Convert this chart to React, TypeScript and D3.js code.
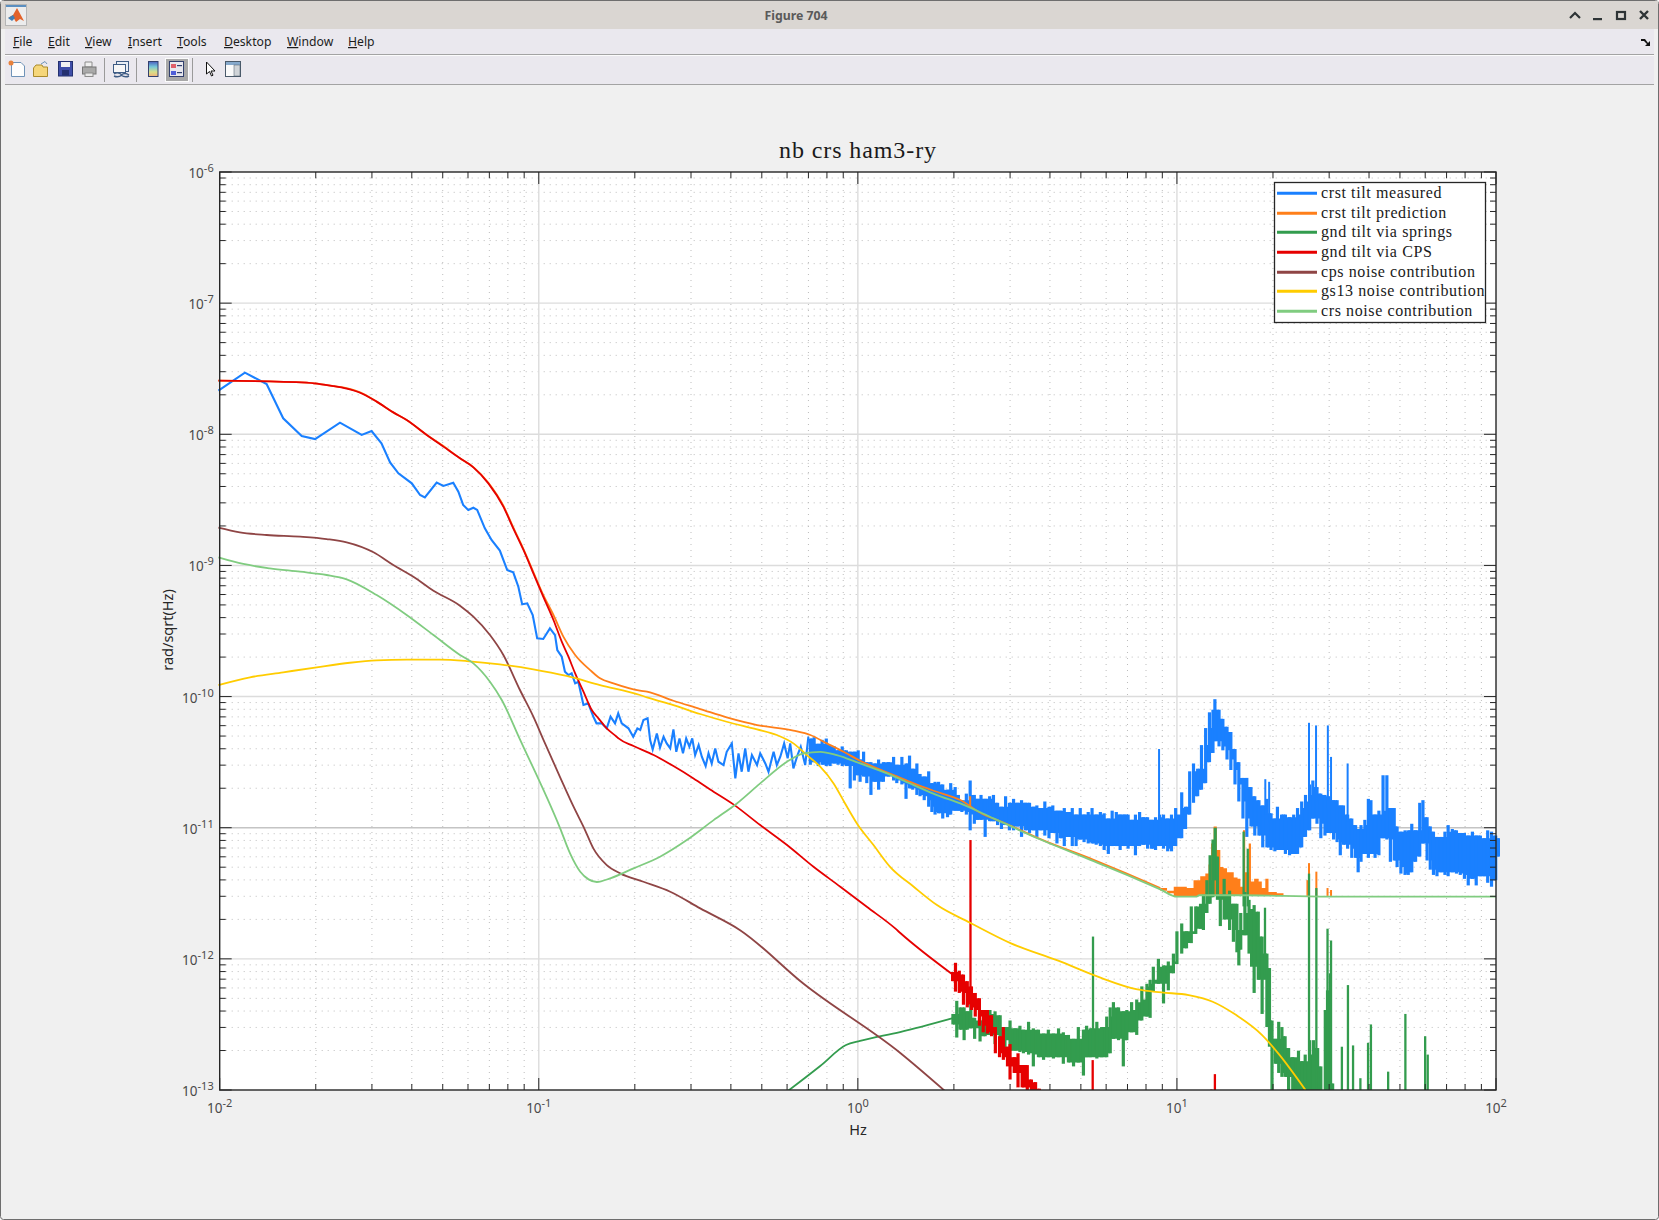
import * as d3 from 'd3'

// All spectra are kept as log10 values: [log10(Hz), log10(rad/sqrt(Hz))]
type Pt = [number, number]
// noisy stretches: [log10(Hz), log10 upper edge, log10 lower edge]
type Band = [number, number, number]
// narrow lines: [log10(Hz), log10 base, log10 tip]
type Spike = [number, number, number]

const legendLabels = [
  'crst tilt measured',
  'crst tilt prediction',
  'gnd tilt via springs',
  'gnd tilt via CPS',
  'cps noise contribution',
  'gs13 noise contribution',
  'crs noise contribution',
]
const seriesColors = ['#1a80ff', '#ff7f1a', '#339c4e', '#e60000', '#8f4545', '#ffcc00', '#80cc80']
const menuItems: [string, number][] = [['File', 13], ['Edit', 48], ['View', 85], ['Insert', 128], ['Tools', 177], ['Desktop', 224], ['Window', 287], ['Help', 348]]

const blueLine: Pt[] = [
  [-2.004, -7.667], [-1.921, -7.53], [-1.853, -7.617], [-1.801, -7.878], [-1.743, -8.013], [-1.701, -8.036],
  [-1.623, -7.911], [-1.555, -8.005], [-1.524, -7.975], [-1.493, -8.069], [-1.466, -8.214], [-1.44, -8.298],
  [-1.398, -8.374], [-1.372, -8.463], [-1.357, -8.481], [-1.32, -8.369], [-1.299, -8.394], [-1.268, -8.369],
  [-1.252, -8.438], [-1.237, -8.539], [-1.221, -8.577], [-1.205, -8.56], [-1.193, -8.577], [-1.169, -8.717],
  [-1.148, -8.806], [-1.122, -8.887], [-1.099, -9.035], [-1.08, -9.053], [-1.064, -9.162], [-1.052, -9.297],
  [-1.036, -9.289], [-1.019, -9.378], [-1.005, -9.556], [-0.986, -9.561], [-0.965, -9.48], [-0.949, -9.531],
  [-0.942, -9.645], [-0.928, -9.696], [-0.918, -9.81], [-0.907, -9.836], [-0.897, -9.823], [-0.886, -9.899],
  [-0.876, -9.887], [-0.86, -10.064], [-0.845, -10.052], [-0.829, -10.153], [-0.819, -10.204], [-0.803, -10.204],
  [-0.787, -10.242], [-0.775, -10.153], [-0.761, -10.204], [-0.751, -10.128], [-0.74, -10.204], [-0.719, -10.242],
  [-0.704, -10.306], [-0.691, -10.243], [-0.682, -10.255], [-0.672, -10.179], [-0.659, -10.166], [-0.651, -10.332],
  [-0.643, -10.403], [-0.63, -10.281], [-0.62, -10.388], [-0.609, -10.306], [-0.599, -10.357], [-0.588, -10.395],
  [-0.578, -10.25], [-0.569, -10.421], [-0.559, -10.319], [-0.548, -10.433], [-0.538, -10.319], [-0.528, -10.382],
  [-0.519, -10.319], [-0.51, -10.446], [-0.499, -10.37], [-0.489, -10.459], [-0.477, -10.53], [-0.468, -10.433],
  [-0.458, -10.51], [-0.447, -10.395], [-0.437, -10.497], [-0.421, -10.522], [-0.411, -10.421], [-0.395, -10.357],
  [-0.384, -10.624], [-0.374, -10.433], [-0.364, -10.573], [-0.353, -10.395], [-0.343, -10.573], [-0.332, -10.446],
  [-0.316, -10.522], [-0.306, -10.433], [-0.29, -10.51], [-0.28, -10.573], [-0.264, -10.421], [-0.254, -10.522],
  [-0.243, -10.459], [-0.231, -10.357], [-0.22, -10.471], [-0.212, -10.357], [-0.202, -10.548], [-0.189, -10.446],
  [-0.179, -10.382], [-0.165, -10.522], [-0.155, -10.306],
]

const blueBand: Band[] = [
  [-0.149, -10.32, -10.52], [-0.137, -10.31, -10.5], [-0.124, -10.36, -10.53], [-0.112, -10.33, -10.52],
  [-0.099, -10.32, -10.53], [-0.087, -10.37, -10.53], [-0.074, -10.38, -10.51], [-0.062, -10.41, -10.52],
  [-0.049, -10.38, -10.53], [-0.036, -10.41, -10.53], [-0.024, -10.42, -10.7], [-0.011, -10.42, -10.64],
  [0.001, -10.41, -10.6], [0.007, -10.48, -10.65], [0.018, -10.42, -10.61], [0.028, -10.5, -10.66],
  [0.041, -10.5, -10.75], [0.054, -10.51, -10.65], [0.065, -10.48, -10.71], [0.08, -10.5, -10.65],
  [0.096, -10.5, -10.61], [0.112, -10.46, -10.64], [0.122, -10.52, -10.66], [0.138, -10.46, -10.67],
  [0.151, -10.51, -10.78], [0.162, -10.45, -10.7], [0.172, -10.55, -10.71], [0.185, -10.51, -10.75],
  [0.195, -10.59, -10.76], [0.208, -10.61, -10.79], [0.222, -10.57, -10.84], [0.232, -10.66, -10.88],
  [0.242, -10.65, -10.9], [0.253, -10.65, -10.89], [0.266, -10.67, -10.93], [0.281, -10.71, -10.92],
  [0.291, -10.66, -10.9], [0.305, -10.69, -10.87], [0.315, -10.75, -10.87], [0.326, -10.79, -10.88],
  [0.34, -10.74, -10.9], [0.352, -10.64, -11.02], [0.365, -10.75, -10.97], [0.375, -10.78, -10.94],
  [0.386, -10.75, -10.94], [0.399, -10.78, -11.07], [0.413, -10.76, -10.95], [0.425, -10.75, -10.95],
  [0.438, -10.81, -10.98], [0.45, -10.84, -11.01], [0.463, -10.76, -10.98], [0.475, -10.81, -11.02],
  [0.488, -10.78, -11.02], [0.5, -10.81, -10.99], [0.513, -10.79, -11.07], [0.525, -10.81, -11.02],
  [0.538, -10.81, -11.04], [0.551, -10.84, -11.02], [0.561, -10.83, -11.07], [0.574, -10.85, -11.02],
  [0.586, -10.8, -11.06], [0.599, -10.84, -11.08], [0.611, -10.83, -11.04], [0.624, -10.87, -11.12],
  [0.634, -10.87, -11.08], [0.647, -10.85, -11.14], [0.659, -10.88, -11.07], [0.672, -10.85, -11.14],
  [0.684, -10.9, -11.14], [0.697, -10.85, -11.09], [0.709, -10.9, -11.11], [0.722, -10.88, -11.12],
  [0.734, -10.85, -11.12], [0.747, -10.9, -11.13], [0.76, -10.88, -11.14], [0.772, -10.89, -11.17],
  [0.785, -10.93, -11.2], [0.797, -10.87, -11.14], [0.81, -10.88, -11.14], [0.822, -10.9, -11.17],
  [0.835, -10.9, -11.14], [0.847, -10.9, -11.16], [0.86, -10.94, -11.14], [0.87, -10.9, -11.21],
  [0.883, -10.88, -11.14], [0.895, -10.92, -11.13], [0.908, -10.92, -11.16], [0.92, -10.94, -11.16],
  [0.933, -10.92, -11.17], [0.946, -10.9, -11.14], [0.958, -10.9, -11.16], [0.971, -10.93, -11.18],
  [0.983, -10.9, -11.18], [0.996, -10.85, -11.14], [1.015, -10.73, -11.08], [1.027, -10.84, -11.01],
  [1.04, -10.57, -10.9], [1.052, -10.51, -10.81], [1.065, -10.55, -10.76], [1.077, -10.37, -10.71],
  [1.09, -10.24, -10.66], [1.102, -10.12, -10.5], [1.113, -10.1, -10.43], [1.119, -10.02, -10.34],
  [1.132, -10.1, -10.38], [1.144, -10.17, -10.41], [1.157, -10.23, -10.48], [1.169, -10.27, -10.56],
  [1.182, -10.4, -10.67], [1.194, -10.5, -10.8], [1.207, -10.62, -10.93], [1.219, -10.62, -11.07],
  [1.232, -10.69, -10.99], [1.244, -10.76, -11.06], [1.257, -10.79, -11.06], [1.269, -10.83, -11.15],
  [1.282, -10.78, -11.15], [1.295, -10.89, -11.17], [1.307, -10.93, -11.18], [1.315, -10.84, -11.17],
  [1.328, -10.9, -11.17], [1.34, -10.9, -11.2], [1.353, -10.92, -11.21], [1.366, -10.9, -11.2],
  [1.378, -10.85, -11.2], [1.391, -10.8, -11.15], [1.403, -10.75, -11.07], [1.416, -10.67, -11.02],
  [1.426, -10.64, -10.93], [1.439, -10.69, -10.97], [1.451, -10.74, -11.08], [1.464, -10.75, -11.06],
  [1.476, -10.76, -11.04], [1.491, -10.79, -11.09], [1.502, -10.79, -11.11], [1.512, -10.83, -11.21],
  [1.522, -10.83, -11.13], [1.535, -10.9, -11.16], [1.548, -10.93, -11.23], [1.56, -10.98, -11.23],
  [1.568, -11.01, -11.34], [1.577, -10.98, -11.26], [1.589, -10.94, -11.2], [1.6, -10.78, -11.23],
  [1.608, -10.79, -11.2], [1.621, -10.9, -11.23], [1.633, -10.87, -11.21], [1.646, -10.6, -11.08],
  [1.658, -10.6, -11.09], [1.669, -10.85, -11.26], [1.681, -10.85, -11.25], [1.69, -10.99, -11.3],
  [1.702, -11.03, -11.35], [1.715, -11.02, -11.36], [1.725, -11.02, -11.36], [1.736, -10.97, -11.34],
  [1.748, -11.02, -11.26], [1.761, -10.81, -11.22], [1.771, -10.79, -11.12], [1.784, -10.92, -11.25],
  [1.794, -10.99, -11.32], [1.804, -11.03, -11.36], [1.815, -11.07, -11.37], [1.828, -11.07, -11.34],
  [1.84, -11.03, -11.36], [1.85, -10.98, -11.37], [1.863, -11.01, -11.34], [1.876, -11.02, -11.35],
  [1.888, -11.04, -11.36], [1.901, -11.04, -11.39], [1.913, -11.06, -11.44], [1.926, -11.03, -11.39],
  [1.938, -11.06, -11.44], [1.951, -11.06, -11.37], [1.963, -11.08, -11.37], [1.974, -11.02, -11.42],
  [1.986, -11.03, -11.45], [1.999, -11.06, -11.4], [2.009, -11.08, -11.22],
]

const blueSpikes: Spike[] = [
  [0.944, -10.95, -10.4], [1.277, -10.9, -10.63], [1.289, -10.95, -10.65], [1.414, -10.8, -10.2],
  [1.436, -10.8, -10.22], [1.473, -10.85, -10.22], [1.483, -10.85, -10.46], [1.535, -10.95, -10.51],
]

const orangeLine: Pt[] = [
  [-2.004, -7.591], [-1.727, -7.606], [-1.686, -7.617], [-1.644, -7.632], [-1.602, -7.648], [-1.56, -7.68],
  [-1.508, -7.751], [-1.456, -7.833], [-1.414, -7.891], [-1.351, -8.005], [-1.299, -8.09], [-1.247, -8.183],
  [-1.205, -8.25], [-1.158, -8.37], [-1.111, -8.545], [-1.08, -8.71], [-1.048, -8.875], [-1.017, -9.05],
  [-0.986, -9.225], [-0.954, -9.378], [-0.923, -9.543], [-0.886, -9.683], [-0.839, -9.798], [-0.808, -9.861],
  [-0.766, -9.899], [-0.683, -9.955], [-0.661, -9.963], [-0.578, -10.032], [-0.494, -10.095], [-0.411, -10.159],
  [-0.316, -10.217], [-0.202, -10.26], [-0.149, -10.293], [-0.097, -10.357], [-0.045, -10.421], [0.007, -10.489],
  [0.06, -10.548], [0.112, -10.599], [0.175, -10.662], [0.237, -10.718], [0.321, -10.789], [0.384, -10.886],
  [0.467, -10.972], [0.572, -11.087], [0.739, -11.245], [0.843, -11.35], [0.948, -11.46],
]

const orangeBand: Band[] = [
  [0.948, -11.46, -11.48], [0.969, -11.48, -11.5], [0.99, -11.45, -11.52], [1.01, -11.45, -11.52],
  [1.031, -11.46, -11.52], [1.052, -11.4, -11.52], [1.073, -11.37, -11.52], [1.089, -11.35, -11.52],
  [1.099, -11.28, -11.52], [1.107, -11.12, -11.52], [1.115, -10.99, -11.52], [1.125, -11.17, -11.52],
  [1.136, -11.3, -11.52], [1.146, -11.31, -11.52], [1.157, -11.34, -11.52], [1.167, -11.34, -11.52],
  [1.178, -11.38, -11.52], [1.19, -11.39, -11.52], [1.199, -11.45, -11.52], [1.207, -11.02, -11.52],
  [1.214, -11.34, -11.52], [1.225, -11.12, -11.52], [1.232, -11.41, -11.52], [1.242, -11.39, -11.52],
  [1.256, -11.41, -11.52], [1.266, -11.46, -11.52], [1.277, -11.39, -11.52], [1.287, -11.49, -11.52],
  [1.313, -11.5, -11.52], [1.334, -11.5, -11.52],
]

const orangeSpikes: Spike[] = [
  [0.352, -10.85, -10.76], [1.409, -11.52, -11.4], [1.414, -11.52, -11.27], [1.437, -11.52, -11.335],
  [1.472, -11.52, -11.46], [1.483, -11.52, -11.475],
]

const greenLine: Pt[] = [
  [-0.219, -13.007], [-0.118, -12.817], [-0.037, -12.657], [0.007, -12.626], [0.132, -12.558], [0.298, -12.451],
]

const greenBandA: Band[] = [
  [0.298, -12.42, -12.5], [0.31, -12.32, -12.6], [0.32, -12.37, -12.54], [0.333, -12.37, -12.62], [0.343, -12.4, -12.54],
  [0.354, -12.35, -12.53], [0.366, -12.45, -12.61], [0.383, -12.47, -12.63], [0.399, -12.42, -12.59],
  [0.414, -12.39, -12.58], [0.43, -12.4, -12.65], [0.446, -12.43, -12.62], [0.461, -12.52, -12.7],
  [0.477, -12.47, -12.7], [0.493, -12.53, -12.7], [0.508, -12.51, -12.71], [0.519, -12.54, -12.72],
  [0.535, -12.48, -12.73], [0.55, -12.53, -12.82], [0.566, -12.54, -12.75], [0.582, -12.57, -12.77],
  [0.597, -12.54, -12.75], [0.613, -12.57, -12.76], [0.629, -12.53, -12.75], [0.644, -12.56, -12.8],
  [0.66, -12.58, -12.79], [0.676, -12.61, -12.82], [0.691, -12.52, -12.79], [0.707, -12.54, -12.89],
  [0.717, -12.51, -12.75], [0.728, -12.53, -12.75], [0.749, -12.48, -12.76], [0.764, -12.52, -12.75],
  [0.78, -12.44, -12.75], [0.791, -12.37, -12.72], [0.801, -12.33, -12.61], [0.817, -12.37, -12.62],
  [0.832, -12.4, -12.82], [0.843, -12.39, -12.62], [0.858, -12.33, -12.56], [0.874, -12.31, -12.58],
  [0.89, -12.21, -12.47], [0.906, -12.19, -12.44], [0.916, -12.16, -12.45], [0.926, -12.06, -12.25],
  [0.942, -12.0, -12.19], [0.958, -12.05, -12.34], [0.973, -12.02, -12.24], [0.989, -11.96, -12.11],
  [1.0, -11.79, -12.04], [1.015, -11.73, -11.96], [1.03, -11.79, -11.92], [1.045, -11.6, -11.88],
  [1.059, -11.6, -11.81], [1.074, -11.58, -11.77], [1.083, -11.51, -11.78], [1.094, -11.4, -11.65],
  [1.104, -11.21, -11.58], [1.113, -11.09, -11.53], [1.12, -11.0, -11.4], [1.127, -11.22, -11.55],
  [1.136, -11.51, -11.75], [1.148, -11.39, -11.7], [1.165, -11.48, -11.78], [1.177, -11.58, -11.87],
  [1.188, -11.58, -11.95], [1.194, -11.78, -12.05], [1.2, -11.65, -11.93], [1.213, -11.49, -11.82],
  [1.226, -11.55, -11.96], [1.234, -11.62, -12.06], [1.242, -11.59, -12.26], [1.255, -11.64, -12.16],
  [1.267, -11.83, -12.42], [1.282, -11.96, -12.52], [1.29, -12.07, -12.67], [1.298, -12.47, -13.0],
  [1.308, -12.61, -12.8], [1.319, -12.48, -12.87], [1.329, -12.52, -12.9], [1.339, -12.59, -12.9],
  [1.35, -12.68, -13.03], [1.363, -12.75, -13.03], [1.381, -12.7, -13.03], [1.392, -12.78, -13.03],
  [1.402, -12.73, -13.03], [1.416, -12.62, -13.03], [1.428, -12.62, -13.03], [1.441, -12.68, -13.03],
  [1.451, -12.82, -13.03],
]

const greenBandB: Band[] = [
  [1.465, -12.39, -13.03], [1.472, -12.24, -13.03], [1.481, -12.11, -13.03], [1.488, -12.95, -13.03],
]

const greenSpikes: Spike[] = [
  [0.737, -12.7, -11.83], [1.209, -11.6, -11.03], [1.222, -11.6, -11.16], [1.276, -12.0, -11.61],
  [1.289, -12.5, -12.08], [1.414, -13.05, -11.35], [1.437, -13.05, -11.46], [1.472, -13.05, -11.77],
  [1.483, -13.05, -11.86], [1.486, -13.05, -12.96], [1.517, -13.05, -12.67], [1.536, -13.05, -12.2],
  [1.552, -13.05, -12.66], [1.575, -13.05, -12.91], [1.599, -13.05, -12.64], [1.608, -13.05, -12.5],
  [1.662, -13.05, -12.86], [1.716, -13.05, -12.42], [1.778, -13.05, -12.59], [1.786, -13.05, -12.73],
]

const redLine: Pt[] = [
  [-2.004, -7.591], [-1.727, -7.606], [-1.686, -7.617], [-1.644, -7.632], [-1.602, -7.652], [-1.56, -7.683],
  [-1.508, -7.751], [-1.456, -7.833], [-1.414, -7.891], [-1.351, -8.005], [-1.299, -8.094], [-1.247, -8.183],
  [-1.205, -8.252], [-1.158, -8.374], [-1.111, -8.552], [-1.08, -8.717], [-1.048, -8.882], [-1.017, -9.06],
  [-0.986, -9.238], [-0.954, -9.416], [-0.928, -9.581], [-0.907, -9.696], [-0.886, -9.823], [-0.86, -9.963],
  [-0.834, -10.103], [-0.813, -10.166], [-0.787, -10.242], [-0.756, -10.306], [-0.75, -10.319], [-0.703, -10.377],
  [-0.64, -10.446], [-0.578, -10.53], [-0.515, -10.624], [-0.463, -10.708], [-0.39, -10.822], [-0.306, -10.98],
  [-0.222, -11.132], [-0.139, -11.298], [-0.055, -11.45], [0.028, -11.603], [0.117, -11.768], [0.133, -11.803],
  [0.299, -12.123],
]

const redBand: Band[] = [
  [0.297, -12.1, -12.17], [0.306, -12.03, -12.25], [0.318, -12.09, -12.26], [0.331, -12.12, -12.35],
  [0.343, -12.17, -12.37], [0.356, -12.21, -12.39], [0.368, -12.26, -12.44], [0.381, -12.3, -12.51],
  [0.393, -12.39, -12.56], [0.406, -12.39, -12.57], [0.419, -12.43, -12.59], [0.431, -12.52, -12.72],
  [0.444, -12.59, -12.75], [0.456, -12.52, -12.77], [0.469, -12.67, -12.82], [0.477, -12.65, -12.92],
  [0.49, -12.75, -12.87], [0.502, -12.72, -12.98], [0.515, -12.81, -12.98], [0.531, -12.81, -13.0],
  [0.544, -12.92, -13.02], [0.557, -12.94, -13.02], [0.569, -12.99, -13.02],
]

const redSpikes: Spike[] = [
  [0.353, -12.3, -11.094], [0.736, -13.05, -12.772], [1.108, -13.05, -12.996], [1.119, -13.05, -12.879],
]

const brownLine: Pt[] = [
  [-2.004, -8.712], [-1.937, -8.748], [-1.853, -8.768], [-1.748, -8.781], [-1.665, -8.799], [-1.602, -8.824],
  [-1.518, -8.9], [-1.456, -8.997], [-1.393, -9.086], [-1.33, -9.193], [-1.247, -9.307], [-1.205, -9.391],
  [-1.153, -9.531], [-1.111, -9.683], [-1.059, -9.95], [-1.017, -10.153], [-0.986, -10.326], [-0.933, -10.616],
  [-0.891, -10.84], [-0.855, -11.018], [-0.829, -11.158], [-0.787, -11.285], [-0.745, -11.348], [-0.672, -11.412],
  [-0.588, -11.488], [-0.494, -11.615], [-0.369, -11.781], [-0.169, -12.192], [0.132, -12.716], [0.274, -13.01],
]

const yellowLine: Pt[] = [
  [-2.004, -9.912], [-1.905, -9.853], [-1.801, -9.815], [-1.696, -9.777], [-1.592, -9.742], [-1.508, -9.724],
  [-1.414, -9.719], [-1.31, -9.719], [-1.226, -9.729], [-1.122, -9.754], [-1.017, -9.792], [-0.913, -9.843],
  [-0.808, -9.912], [-0.683, -9.988], [-0.661, -10.006], [-0.578, -10.065], [-0.494, -10.133], [-0.411, -10.192],
  [-0.316, -10.25], [-0.254, -10.293], [-0.202, -10.357], [-0.16, -10.446], [-0.118, -10.535], [-0.076, -10.662],
  [-0.04, -10.815], [-0.003, -10.967], [0.049, -11.132], [0.101, -11.298], [0.175, -11.45], [0.248, -11.59],
  [0.352, -11.725], [0.48, -11.882], [0.628, -12.014], [0.752, -12.136], [0.876, -12.233], [0.951, -12.256],
  [1.037, -12.276], [1.112, -12.327], [1.186, -12.429], [1.267, -12.581], [1.322, -12.734], [1.403, -13.001],
]

const crsLine: Pt[] = [
  [-2.004, -8.938], [-1.926, -8.989], [-1.843, -9.022], [-1.748, -9.048], [-1.665, -9.073], [-1.602, -9.106],
  [-1.508, -9.226], [-1.414, -9.378], [-1.33, -9.531], [-1.247, -9.683], [-1.205, -9.747], [-1.153, -9.887],
  [-1.116, -10.026], [-1.059, -10.326], [-0.933, -11.005], [-0.902, -11.196], [-0.87, -11.336], [-0.844, -11.394],
  [-0.818, -11.414], [-0.776, -11.386], [-0.703, -11.31], [-0.62, -11.221], [-0.536, -11.094], [-0.452, -10.942],
  [-0.379, -10.815], [-0.306, -10.662], [-0.222, -10.497], [-0.17, -10.433], [-0.118, -10.421], [-0.066, -10.446],
  [0.007, -10.51], [0.091, -10.586], [0.175, -10.675], [0.248, -10.751], [0.321, -10.815], [0.425, -10.929],
  [0.572, -11.09], [0.739, -11.255], [0.843, -11.36], [0.948, -11.47], [1.0, -11.526], [1.06, -11.526],
  [1.07, -11.515], [1.2, -11.515], [1.33, -11.52], [1.45, -11.525], [1.5, -11.526], [2.0, -11.526],
]

const W = 1659
const H = 1220
const axL = 219.7
const axR = 1496
const axT = 172
const axB = 1090

const x = d3.scaleLog().domain([1e-2, 1e2]).range([axL, axR])
const y = d3.scaleLog().domain([1e-13, 1e-6]).range([axB, axT])

const px = (v: number) => x(10 ** v)
const py = (v: number) => y(10 ** v)

const jagged = d3.line<Pt>().x(d => px(d[0])).y(d => py(d[1]))
const smooth = d3.line<Pt>().x(d => px(d[0])).y(d => py(d[1])).curve(d3.curveMonotoneX)
const stepArea = d3.area<Band>().x(d => px(d[0])).y0(d => py(d[2])).y1(d => py(d[1])).curve(d3.curveStepAfter)

const isDecade = (v: number) => Math.abs(Math.log10(v) - Math.round(Math.log10(v))) < 1e-6

const xTicks = x.ticks()
const yTicks = y.ticks()
const xDecades = xTicks.filter(isDecade)
const yDecades = yTicks.filter(isDecade)

const uiFont = '"Noto Sans", sans-serif'
const texFont = '"Liberation Serif", serif'

function Spikes({ data, color, width = 2 }: { data: Spike[]; color: string; width?: number }) {
  return (
    <g stroke={color} strokeWidth={width}>
      {data.map((d, i) => (
        <line key={i} x1={px(d[0])} x2={px(d[0])} y1={py(d[1])} y2={py(d[2])} />
      ))}
    </g>
  )
}

function Curve({ data, color, width = 1.8 }: { data: Pt[]; color: string; width?: number }) {
  return <path d={smooth(data) ?? ''} fill="none" stroke={color} strokeWidth={width} strokeLinejoin="round" />
}

// noise is drawn as a comb: one vertical stroke per row, over a solid core where neighbouring rows overlap
function NoisyBand({ data, color, width = 3.2 }: { data: Band[]; color: string; width?: number }) {
  const core: Band[] = data.map((d, i) => {
    const near = data.slice(Math.max(0, i - 1), i + 2)
    const top = d3.min(near, r => r[1]) as number
    const bottom = d3.max(near, r => r[2]) as number
    return [d[0], Math.max(top, bottom), bottom]
  })
  return (
    <g>
      <path d={stepArea(core) ?? ''} fill={color} />
      <g stroke={color} strokeWidth={width}>
        {data.map((d, i) => (
          <line key={i} x1={px(d[0])} x2={px(d[0])} y1={py(d[2])} y2={py(d[1])} />
        ))}
      </g>
    </g>
  )
}

function Chrome() {
  return (
    <g>
      <rect x={0.5} y={0.5} width={W - 1} height={H - 1} fill="#f0f0f0" stroke="#6e6e6e" rx={3} />
      <rect x={1} y={1} width={W - 2} height={28} fill="#dad6d2" />
      <rect x={5} y={29} width={1649} height={25} fill="#eae8ee" />
      <rect x={5} y={54} width={1649} height={1} fill="#a3a3a3" />
      <rect x={5} y={55} width={1649} height={1} fill="#fbfbfb" />
      <rect x={5} y={56} width={1649} height={28} fill="#eae8ee" />
      <rect x={5} y={84} width={1649} height={1} fill="#a3a3a3" />
      <text x={796} y={20} textAnchor="middle" fontFamily={uiFont} fontSize={12.3} fontWeight={700} fill="#5a5a5a">Figure 704</text>

      {/* matlab logo */}
      <rect x={5.5} y={4.5} width={21} height={21} fill="#ececec" stroke="#b5b5b5" />
      <rect x={6} y={5} width={20} height={2} fill="#5b8fc0" />
      <path d="M8 18 L13 15 L17 8 L24 21 L20 19 L16 22 L13 17 Z" fill="#e2622a" />
      <path d="M8 18 L13 15 L15 18 L12 21 Z" fill="#3f7fb5" />

      {/* window buttons */}
      <path d="M1570 18 L1575 13 L1580 18" fill="none" stroke="#2e3436" strokeWidth={2.2} />
      <rect x={1593} y={18} width={9} height={2.2} fill="#2e3436" />
      <rect x={1617} y={12} width={8} height={7} fill="none" stroke="#2e3436" strokeWidth={2.2} />
      <path d="M1640 11 L1648 19 M1648 11 L1640 19" stroke="#2e3436" strokeWidth={2.4} />

      {menuItems.map(([label, mx]) => (
        <text key={label} x={mx} y={46} fontFamily={uiFont} fontSize={12.2} fill="#1c1c1c">
          <tspan textDecoration="underline">{label[0]}</tspan>
          {label.slice(1)}
        </text>
      ))}
      <path d="M1641 39 L1645 39 L1648 43 L1650 41 L1650 46 L1645 46 L1647 44 L1644 41 L1641 41 Z" fill="#111" />

      {/* toolbar */}
      <path d="M11.5 62.5 H21 L24.5 66 V76.5 H11.5 Z" fill="#fdfdfd" stroke="#6f93b8" />
      <circle cx={11} cy={63} r={2.5} fill="#e8823c" />
      <path d="M33.5 68 L36 65 H42 L43 67 H47.5 V76.5 H33.5 Z" fill="#f5d67a" stroke="#a98a2d" />
      <path d="M41 64 L45 61.5 L47 64" fill="none" stroke="#6f93b8" />
      <rect x={58.5} y={61.5} width={14} height={14.5} fill="#3f4ea8" stroke="#23306f" />
      <rect x={61} y={62} width={9} height={5} fill="#f2f2f2" />
      <rect x={62} y={70} width={7} height={5.5} fill="#23306f" />
      <path d="M85 62 H92 V67 H85 Z" fill="#efefef" stroke="#8c8c8c" />
      <rect x={82.5} y={67} width={13.5} height={7} fill="#a9a9a9" stroke="#767676" />
      <rect x={85} y={73} width={8} height={3.5} fill="#e8e8e8" stroke="#8c8c8c" />
      <rect x={104} y={58} width={1} height={24} fill="#9a9a9a" />
      <rect x={116.5} y={61.5} width={12} height={10} fill="#e8eef5" stroke="#3f5d85" />
      <rect x={113.5} y={64.5} width={12} height={8} fill="#f7f7f7" stroke="#3f5d85" />
      <path d="M114 74 Q118 71 122 75 M121 75 Q125 72 129 75 M114 76 Q118 78 122 75 M121 75 Q125 78 129 76" fill="none" stroke="#3f5d85" strokeWidth={1.4} />
      <rect x={136} y={58} width={1} height={24} fill="#9a9a9a" />
      <defs>
        <linearGradient id="cbar" x1="0" y1="0" x2="0" y2="1">
          <stop offset="0" stopColor="#4a5fc0" />
          <stop offset="0.35" stopColor="#74c7d8" />
          <stop offset="0.7" stopColor="#d8e08a" />
          <stop offset="1" stopColor="#f3b27a" />
        </linearGradient>
      </defs>
      <rect x={148.5} y={61.5} width={9.5} height={15} fill="url(#cbar)" stroke="#32406e" />
      <rect x={165.5} y={58.5} width={23} height={23} fill="#a8a8a8" stroke="#fbfbfb" />
      <rect x={169.5} y={61.5} width={14} height={15} fill="#e8e8ee" stroke="#32406e" />
      <rect x={171} y={64} width={5} height={4} fill="#e0606a" />
      <rect x={171} y={71} width={5} height={4} fill="#4f5fd8" />
      <rect x={177} y={65} width={5} height={1.2} fill="#32406e" />
      <rect x={177} y={72} width={5} height={1.2} fill="#32406e" />
      <rect x={192} y={58} width={1} height={24} fill="#9a9a9a" />
      <path d="M206.5 62 L206.5 74 L209.5 71.5 L211.5 76 L213 75.2 L211 71 L215 71 Z" fill="#fdfdfd" stroke="#111" />
      <rect x={225.5} y={61.5} width={15} height={15} fill="#fafafa" stroke="#4a5a6a" />
      <rect x={226} y={62} width={14} height={3} fill="#86a9cc" />
      <rect x={234} y={65} width={6} height={11} fill="#d0d4d8" stroke="#4a5a6a" strokeWidth={0.5} />
    </g>
  )
}

export default function App() {
  return (
    <svg width={W} height={H} viewBox={`0 0 ${W} ${H}`} style={{ position: 'absolute', left: 0, top: 0, display: 'block' }}>
      <Chrome />

      <defs>
        <clipPath id="plot-clip">
          <rect x={axL - 4} y={axT} width={axR - axL + 8} height={axB - axT} />
        </clipPath>
      </defs>

      <rect x={axL} y={axT} width={axR - axL} height={axB - axT} fill="#fff" />

      {/* minor grid */}
      <g stroke="#bdbdbd" strokeWidth={1} strokeDasharray="1 5">
        {xTicks.filter(t => !isDecade(t)).map(t => (
          <line key={t} x1={x(t)} x2={x(t)} y1={axT} y2={axB} />
        ))}
        {yTicks.filter(t => !isDecade(t)).map(t => (
          <line key={t} x1={axL} x2={axR} y1={y(t)} y2={y(t)} />
        ))}
      </g>
      {/* major grid */}
      <g stroke="#dcdcdc" strokeWidth={1.4}>
        {xDecades.slice(1, -1).map(t => (
          <line key={t} x1={x(t)} x2={x(t)} y1={axT} y2={axB} />
        ))}
        {yDecades.slice(1, -1).map(t => (
          <line key={t} x1={axL} x2={axR} y1={y(t)} y2={y(t)} stroke={t < 2e-11 && t > 5e-12 ? '#c4c4c4' : '#dcdcdc'} />
        ))}
      </g>

      <g clipPath="url(#plot-clip)">
        <path d={jagged(blueLine) ?? ''} fill="none" stroke={seriesColors[0]} strokeWidth={2.1} />
        <NoisyBand data={blueBand} color={seriesColors[0]} />
        <Spikes data={blueSpikes} color={seriesColors[0]} />

        <Curve data={orangeLine} color={seriesColors[1]} />
        <path d={stepArea(orangeBand) ?? ''} fill={seriesColors[1]} />
        <Spikes data={orangeSpikes} color={seriesColors[1]} />

        <Curve data={greenLine} color={seriesColors[2]} />
        <NoisyBand data={greenBandA} color={seriesColors[2]} />
        <NoisyBand data={greenBandB} color={seriesColors[2]} />
        <Spikes data={greenSpikes} color={seriesColors[2]} width={2.3} />

        <Curve data={redLine} color={seriesColors[3]} />
        <NoisyBand data={redBand} color={seriesColors[3]} />
        <Spikes data={redSpikes} color={seriesColors[3]} width={2.3} />

        <Curve data={brownLine} color={seriesColors[4]} />
        <Curve data={yellowLine} color={seriesColors[5]} />
        <Curve data={crsLine} color={seriesColors[6]} />
      </g>

      {/* ticks on all four sides */}
      <g stroke="#262626" strokeWidth={1}>
        {xTicks.map(t => {
          const len = isDecade(t) ? 12 : 6
          return (
            <g key={t}>
              <line x1={x(t)} x2={x(t)} y1={axB} y2={axB - len} />
              <line x1={x(t)} x2={x(t)} y1={axT} y2={axT + len} />
            </g>
          )
        })}
        {yTicks.map(t => {
          const len = isDecade(t) ? 12 : 6
          return (
            <g key={t}>
              <line x1={axL} x2={axL + len} y1={y(t)} y2={y(t)} />
              <line x1={axR} x2={axR - len} y1={y(t)} y2={y(t)} />
            </g>
          )
        })}
      </g>
      <rect x={axL} y={axT} width={axR - axL} height={axB - axT} fill="none" stroke="#262626" strokeWidth={1.4} />

      {/* tick labels */}
      <g fontFamily={uiFont} fontSize={13.5} fill="#4a4a4a">
        {xDecades.map(t => (
          <text key={t} x={x(t)} y={1113} textAnchor="middle">
            10<tspan dy={-6} fontSize={11}>{Math.round(Math.log10(t))}</tspan>
          </text>
        ))}
        {yDecades.map(t => (
          <text key={t} x={axL - 6} y={y(t) + 6} textAnchor="end">
            10<tspan dy={-6} fontSize={11}>{Math.round(Math.log10(t))}</tspan>
          </text>
        ))}
      </g>

      <text x={858} y={1135} textAnchor="middle" fontFamily={uiFont} fontSize={14.5} fill="#262626">Hz</text>
      <text transform="translate(173,630) rotate(-90)" textAnchor="middle" fontFamily={uiFont} fontSize={14.5} fill="#262626">rad/sqrt(Hz)</text>
      <text x={858} y={158} textAnchor="middle" fontFamily={texFont} fontSize={24} letterSpacing={0.9} fill="#1a1a1a">nb crs ham3-ry</text>

      {/* legend */}
      <rect x={1274.5} y={182.5} width={211} height={140} fill="#fff" stroke="#262626" strokeWidth={1.3} />
      {legendLabels.map((label, i) => {
        const ly = [193.3, 213.3, 232.3, 252.3, 272.3, 291.3, 311.3][i]
        return (
          <g key={label}>
            <line x1={1277} x2={1317} y1={ly} y2={ly} stroke={seriesColors[i]} strokeWidth={3} />
            <text x={1321} y={ly + 4.5} fontFamily={texFont} fontSize={16} letterSpacing={0.6} fill="#1a1a1a">{label}</text>
          </g>
        )
      })}
    </svg>
  )
}
